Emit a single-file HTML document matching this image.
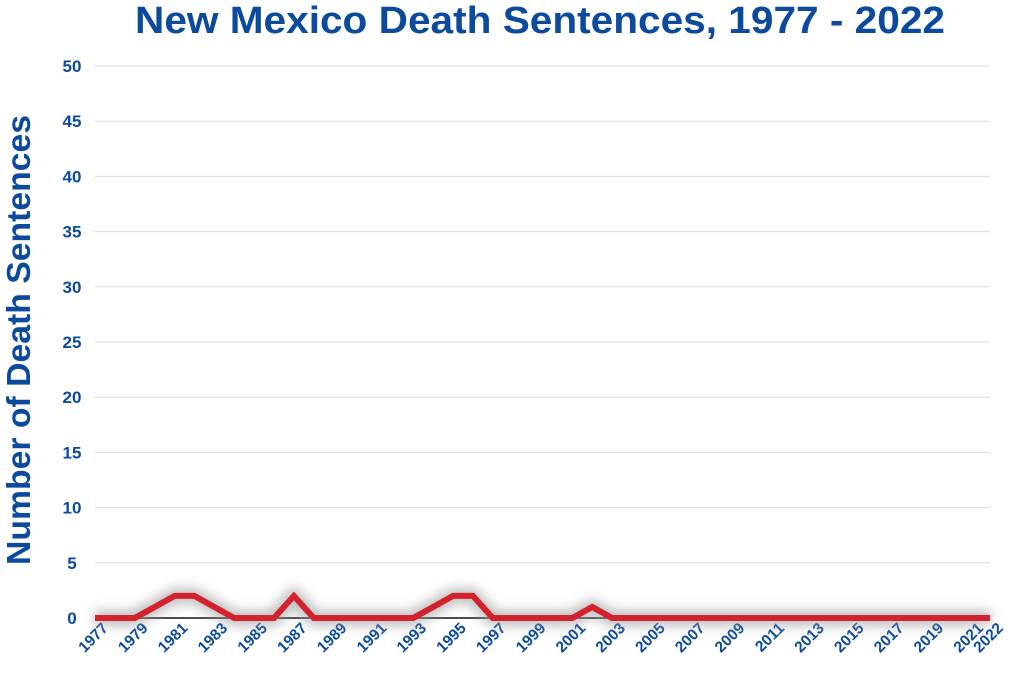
<!DOCTYPE html>
<html><head><meta charset="utf-8">
<style>
html,body{margin:0;padding:0;background:#fff;}
svg text{font-family:"Liberation Sans",sans-serif;font-weight:bold;fill:#0b4a9c;}
</style></head>
<body>
<svg width="1024" height="678" viewBox="0 0 1024 678" xmlns="http://www.w3.org/2000/svg">
<defs><filter id="sh" x="-10%" y="-200%" width="120%" height="500%"><feGaussianBlur stdDeviation="6"/></filter></defs>
<text x="540" y="33" text-anchor="middle" font-size="38" textLength="810" lengthAdjust="spacingAndGlyphs">New Mexico Death Sentences, 1977 - 2022</text>
<text transform="translate(30,340) rotate(-90)" text-anchor="middle" font-size="33" textLength="450" lengthAdjust="spacingAndGlyphs">Number of Death Sentences</text>
<g id="grid"></g><g id="yt"></g><g id="xt"></g><g id="ser"></g>
</svg>
<script>
const years=[];for(let y=1977;y<=2022;y++)years.push(y);
const values=[0,0,0,1,2,2,1,0,0,0,2,0,0,0,0,0,0,1,2,2,0,0,0,0,0,1,0,0,0,0,0,0,0,0,0,0,0,0,0,0,0,0,0,0,0,0];
const yTicks=[0,5,10,15,20,25,30,35,40,45,50];
const xLabels=[1977,1979,1981,1983,1985,1987,1989,1991,1993,1995,1997,1999,2001,2003,2005,2007,2009,2011,2013,2015,2017,2019,2021,2022];
const NS="http://www.w3.org/2000/svg";
const x0=95,x1=990,y0=618,y1=66;
const X=y=>x0+(y-1977)*(x1-x0)/45;
const Y=v=>y0-v*(y0-y1)/50;
function mk(t,a,p){const e=document.createElementNS(NS,t);for(const k in a)e.setAttribute(k,a[k]);p.appendChild(e);return e;}
const g=document.getElementById('grid'),yt=document.getElementById('yt'),xt=document.getElementById('xt'),s=document.getElementById('ser');
yTicks.forEach(v=>{
  const l=mk('line',{x1:x0,x2:x1,y1:Y(v),y2:Y(v),stroke:v===0?'#111':'#dcdcdc','stroke-width':v===0?1.5:1},g);
  
  
  const t=mk('text',{x:72,y:Y(v)+6,'text-anchor':'middle','font-size':17},yt);t.textContent=v;
  
  
});
xLabels.forEach(yr=>{
  const x=X(yr)+14,y=629;
  const t=mk('text',{x:x,y:y,'text-anchor':'end','font-size':15.5,transform:`rotate(-45 ${x} ${y})`},xt);t.textContent=yr;
  
  
});
const pts=years.map((yr,i)=>X(yr)+','+Y(values[i])).join(' ');
const shd=mk('polyline',{points:pts,fill:'none',stroke:'#9a9a9a','stroke-width':14,opacity:0.7,filter:'url(#sh)'},s);


const ln=mk('polyline',{points:pts,fill:'none',stroke:'#d3222e','stroke-width':6,'stroke-linejoin':'miter'},s);


</script>
</body></html>
